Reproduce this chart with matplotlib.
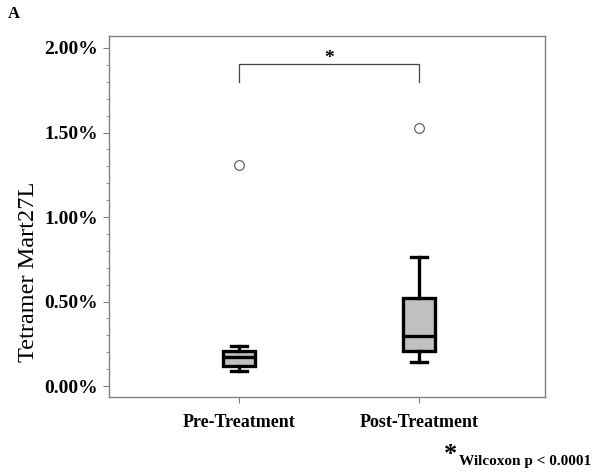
import matplotlib

matplotlib.use("Agg")
import matplotlib.pyplot as plt
from matplotlib.ticker import MultipleLocator, FuncFormatter

plt.rcParams["font.family"] = ["Liberation Serif", "DejaVu Serif"]

# Values in percent
groups = ["Pre-Treatment", "Post-Treatment"]
whislo = [0.09, 0.144]
q1 = [0.12, 0.207]
med = [0.173, 0.298]
q3 = [0.209, 0.519]
whishi = [0.238, 0.763]
fliers = [[1.31], [1.527]]

stats = [
    dict(label=g, whislo=lo, q1=a, med=m, q3=b, whishi=hi, fliers=f)
    for g, lo, a, m, b, hi, f in zip(groups, whislo, q1, med, q3, whishi, fliers)
]

fig = plt.figure(figsize=(6.0, 4.72), dpi=100)
ax = fig.add_axes([109 / 600, 1 - 397 / 472, 436 / 600, 361 / 472])

black = dict(color="black", linewidth=2.4)
ax.bxp(
    stats,
    positions=[1, 2],
    widths=0.18,
    patch_artist=True,
    boxprops=dict(facecolor="#c0c0c0", edgecolor="black", linewidth=2.4),
    medianprops=black,
    whiskerprops=black,
    capprops=black,
    capwidths=0.09,
    flierprops=dict(marker="o", markerfacecolor="white", markeredgecolor="#555555",
                    markersize=7, markeredgewidth=0.8),
)

ax.set_xlim(0.278, 2.7)
ax.set_ylim(-0.065, 2.071)

ax.yaxis.set_major_locator(MultipleLocator(0.5))
ax.yaxis.set_minor_locator(MultipleLocator(0.1))
ax.yaxis.set_major_formatter(FuncFormatter(lambda v, p: f"{v:.2f}%"))
ax.set_xticks([1, 2])
ax.set_xticklabels(groups)

for s in ax.spines.values():
    s.set_color("#808080")
    s.set_linewidth(1.0)
ax.tick_params(axis="both", which="both", color="#808080", direction="out")
ax.tick_params(axis="y", which="major", length=4, labelsize=14, pad=4)
ax.tick_params(axis="y", which="minor", length=2.2)
ax.tick_params(axis="x", length=4, labelsize=13, pad=8)
for lab in ax.get_xticklabels() + ax.get_yticklabels():
    lab.set_fontweight("bold")

# y label sits lower than the axes centre in the original
fig.text(29 / 600, 1 - 272 / 472, "Tetramer Mart27L", rotation=90,
         ha="center", va="center", fontsize=17.5)

# significance bracket
ax.plot([1, 1, 2, 2], [1.80, 1.903, 1.903, 1.80], color="#444444", linewidth=0.9)
ax.text(1.5, 1.91, "*", ha="center", va="baseline", fontsize=14, fontweight="bold")

fig.text(8 / 600, 1 - 14 / 472, "A", ha="left", va="center", fontsize=12, fontweight="bold")
fig.text(444 / 600, 1 - 455 / 472, "*", ha="left", va="center", fontsize=19, fontweight="bold")
fig.text(459 / 600, 1 - 461 / 472, "Wilcoxon p < 0.0001", ha="left", va="center",
         fontsize=11, fontweight="bold")

fig.savefig("out.png", dpi=100, facecolor="white")
